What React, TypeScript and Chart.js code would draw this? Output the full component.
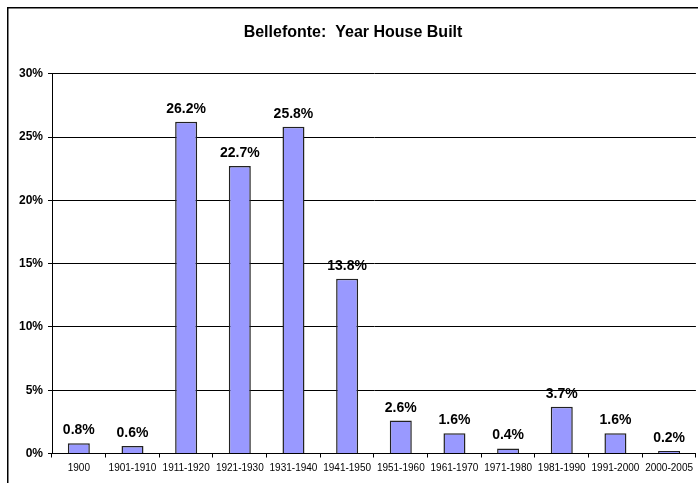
import React, { useEffect, useRef } from "react";
import { Chart, registerables } from "chart.js";

Chart.register(...registerables);

const categories = [
  "1900", "1901-1910", "1911-1920", "1921-1930", "1931-1940", "1941-1950",
  "1951-1960", "1961-1970", "1971-1980", "1981-1990", "1991-2000", "2000-2005",
];
const shares = [0.8, 0.6, 26.2, 22.7, 25.8, 13.8, 2.6, 1.6, 0.4, 3.7, 1.6, 0.2];
const titleText = "Bellefonte:  Year House Built";

const FONT = "Arial, 'Liberation Sans', sans-serif";

const labelPlugin = {
  id: "barLabels",
  afterDatasetsDraw(chart: any) {
    const ctx = chart.ctx;
    const meta = chart.getDatasetMeta(0);
    ctx.save();
    ctx.font = `bold 14px ${FONT}`;
    ctx.fillStyle = "#000";
    ctx.textAlign = "center";
    ctx.textBaseline = "alphabetic";
    meta.data.forEach((bar: any, i: number) => {
      ctx.fillText(shares[i].toFixed(1) + "%", bar.x, bar.y - 9);
    });
    ctx.restore();
  },
};

const framePlugin = {
  id: "frame",
  beforeDraw(chart: any) {
    const ctx = chart.ctx;
    ctx.save();
    ctx.fillStyle = "#fff";
    ctx.fillRect(0, 0, chart.width, chart.height);
    ctx.strokeStyle = "#000";
    ctx.lineWidth = 1.5;
    ctx.beginPath();
    ctx.moveTo(7.75, chart.height);
    ctx.lineTo(7.75, 7.75);
    ctx.lineTo(chart.width, 7.75);
    ctx.stroke();
    ctx.restore();
  },
};

export default function App() {
  const ref = useRef<HTMLCanvasElement>(null);
  useEffect(() => {
    document.documentElement.style.overflow = "hidden";
    if (!ref.current) return;
    const chart = new Chart(ref.current, {
      type: "bar",
      data: {
        labels: categories,
        datasets: [
          {
            data: shares,
            backgroundColor: "#9999FF",
            borderColor: "#222",
            borderWidth: 1.5,
            barPercentage: 0.41,
            categoryPercentage: 1,
          },
        ],
      },
      options: {
        animation: false,
        responsive: false,
        layout: { padding: { top: 8, right: 0, bottom: 0, left: 8 } },
        plugins: {
          legend: { display: false },
          tooltip: { enabled: false },
          title: {
            display: true,
            text: titleText,
            color: "#000",
            font: { family: FONT, size: 16, weight: "bold" },
            padding: { top: 15, bottom: 31.5 },
          },
        },
        scales: {
          x: {
            grid: {
              offset: true,
              drawOnChartArea: false,
              drawTicks: true,
              tickLength: 4,
              color: "#000",
            },
            border: { color: "#000", width: 1 },
            ticks: {
              color: "#000",
              font: { family: FONT, size: 10 },
              padding: 5,
              maxRotation: 0,
              autoSkip: false,
            },
            afterFit(scale: any) {
              scale.height = 29.5;
            },
          },
          y: {
            min: 0,
            max: 30,
            grid: {
              color: "#000",
              tickLength: 4,
            },
            border: { color: "#000", width: 1 },
            ticks: {
              stepSize: 5,
              color: "#000",
              font: { family: FONT, size: 12, weight: "bold" },
              padding: 5,
              callback: (v: any) => v + "%",
            },
            afterFit(scale: any) {
              scale.width = 44;
            },
          },
        },
      },
      plugins: [labelPlugin, framePlugin],
    });
    return () => chart.destroy();
  }, []);
  return (
    <div
      style={{
        position: "fixed",
        left: 0,
        top: 0,
        width: 698,
        height: 483,
        overflow: "hidden",
        background: "#fff",
      }}
    >
      <canvas ref={ref} width={698} height={483} style={{ display: "block" }} />
    </div>
  );
}
